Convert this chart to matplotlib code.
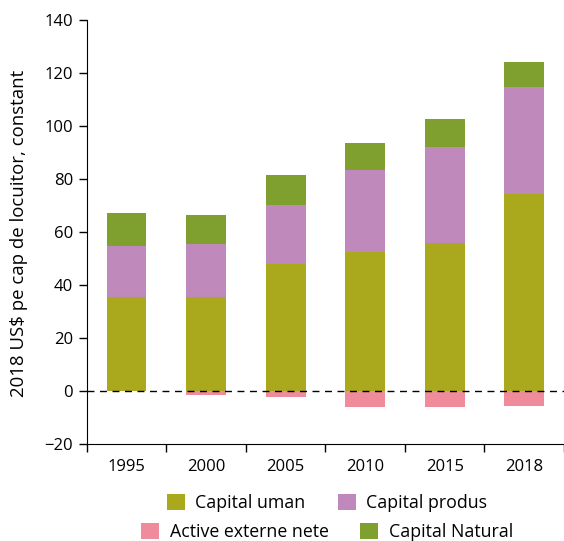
import matplotlib
matplotlib.use("Agg")
import matplotlib.pyplot as plt
import numpy as np

plt.rcParams['font.family'] = ['Open Sans', 'DejaVu Sans']
plt.rcParams['font.weight'] = 'normal'

years = ["1995", "2000", "2005", "2010", "2015", "2018"]
capital_uman = [35.5, 35.5, 48.0, 52.6, 55.8, 74.5]
capital_produs = [19.2, 20.1, 22.2, 30.8, 36.3, 40.2]
capital_natural = [12.5, 10.8, 11.3, 10.2, 10.5, 9.5]
active_externe = [0.0, -1.5, -2.3, -6.0, -6.0, -5.5]

c_uman = "#AAA91E"
c_produs = "#BF89BC"
c_natural = "#7F9F2F"
c_nfa = "#EF8B9B"

fig = plt.figure(figsize=(5.64, 5.41), dpi=100)
ax = fig.add_axes([0.154, 0.179, 0.846, 0.784])

x = np.arange(len(years))
w = 0.5
hu = np.array(capital_uman)
hp = np.array(capital_produs)
hn = np.array(capital_natural)
b1 = ax.bar(x, hu, w, color=c_uman, label="Capital uman")
b2 = ax.bar(x, hp, w, bottom=hu, color=c_produs, label="Capital produs")
b4 = ax.bar(x, hn, w, bottom=hu + hp, color=c_natural, label="Capital Natural")
b3 = ax.bar(x, active_externe, w, color=c_nfa, label="Active externe nete")

ax.axhline(0, color="black", lw=1.0, ls=(0, (5, 4)), zorder=5)

ax.set_xlim(-0.5, 5.46)
ax.set_ylim(-20, 140)
ax.set_yticks(np.arange(-20, 141, 20))
ax.set_yticklabels(["\u221220"] + [str(v) for v in range(0, 141, 20)])
ax.set_xticks(x)
ax.set_xticklabels(years)
ax.set_xticks(np.arange(-0.5, 5.6, 1), minor=True)
ax.tick_params(axis="x", which="major", length=0, pad=11, labelsize=12)
ax.tick_params(axis="x", which="minor", length=6, width=1)
ax.tick_params(axis="y", length=6, width=1, labelsize=12, pad=4)
ax.spines["top"].set_visible(False)
ax.spines["right"].set_visible(False)
ax.set_ylabel("2018 US$ pe cap de locuitor, constant", fontsize=13.4)
ax.yaxis.set_label_coords(-0.124, 0.497)

lp = {'family': ['Open Sans', 'DejaVu Sans'], 'weight': 'normal', 'size': 12.8}
fig.legend(handles=[b1, b2], loc="center", bbox_to_anchor=(0.58, 0.07),
           ncol=2, frameon=False, prop=lp, handlelength=1.0,
           handleheight=1.0, handletextpad=0.6, columnspacing=1.8)
fig.legend(handles=[b3, b4], loc="center", bbox_to_anchor=(0.58, 0.017),
           ncol=2, frameon=False, prop=lp, handlelength=1.0,
           handleheight=1.0, handletextpad=0.6, columnspacing=1.8)

fig.savefig("out.png", dpi=100)
